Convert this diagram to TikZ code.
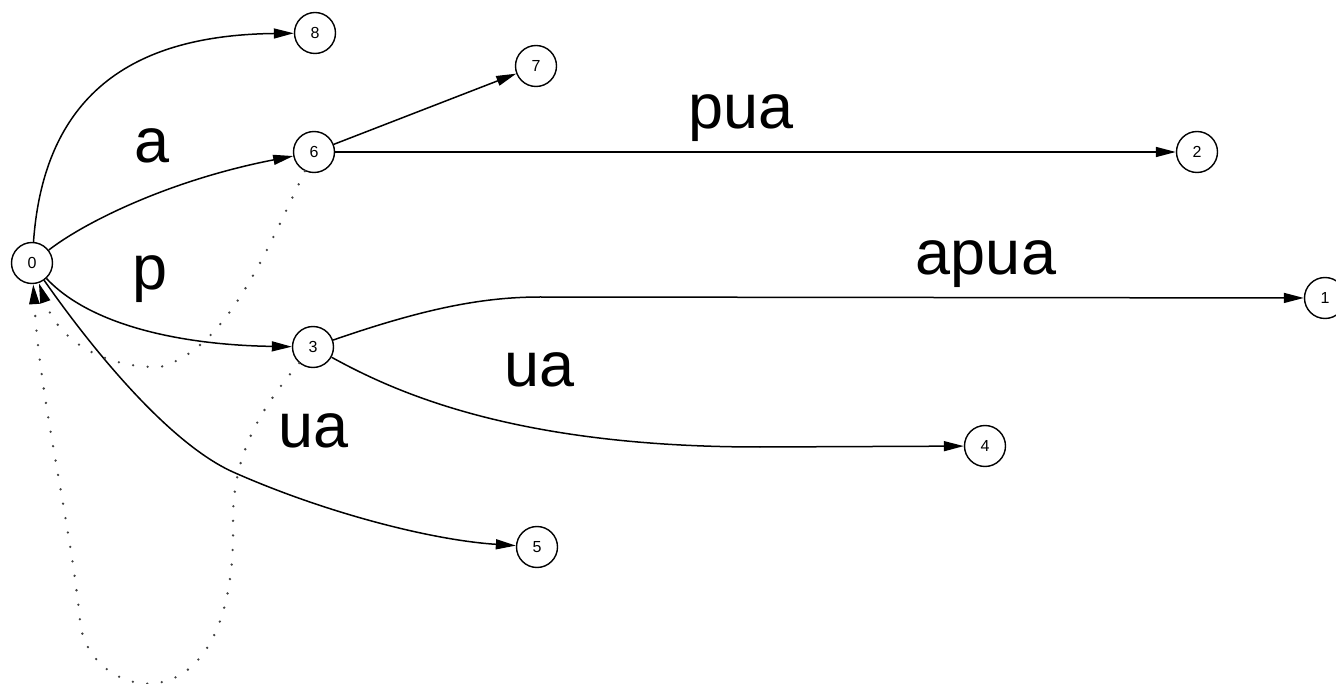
\documentclass[tikz,border=0pt]{standalone}
\usepackage{fontspec}
\setmainfont{Liberation Sans}
\usetikzlibrary{arrows.meta}

\tikzset{
  state/.style={draw, circle, line width=1.4pt, minimum size=41pt, inner sep=0pt,
    font=\fontsize{16}{18}\selectfont},
  lbl/.style={anchor=base, inner sep=0pt, font=\fontsize{63}{70}\selectfont},
  trans/.style={line width=1.5pt, -{Triangle[length=20pt,width=10pt]}},
  fail/.style={line width=2.6pt, black!75, line cap=round, dash pattern=on 0pt off 14.6pt,
    -{Triangle[length=20pt,width=10pt,black]}}
}

\begin{document}
\begin{tikzpicture}[x=1pt, y=-1pt]
  \useasboundingbox (0,0) rectangle (1336,684);
  \clip (0,0) rectangle (1336,684);

  % trie states
  \node[state] (n0) at (32,263) {0};
  \node[state] (n8) at (315,33) {8};
  \node[state] (n7) at (536,66) {7};
  \node[state] (n6) at (314,152) {6};
  \node[state] (n2) at (1197,152) {2};
  \node[state] (n3) at (313,347) {3};
  \node[state] (n1) at (1325,298) {1};
  \node[state] (n4) at (985,446) {4};
  \node[state] (n5) at (537,547) {5};

  % goto edges
  \draw[trans] (n0) .. controls (45,80) and (150,35) .. (n8);
  \draw[trans] (n0) .. controls (85,222) and (170,180) .. (n6);
  \draw[trans] (n0) .. controls (90,325) and (180,345) .. (n3);
  \draw[trans] (n0) .. controls (100,360) and (173,445) .. (233,472)
                    .. controls (323,512) and (430,540) .. (n5);
  \draw[trans] (n6) -- (n7);
  \draw[trans] (n6) -- (n2);
  \draw[trans] (n3) .. controls (420,310) and (480,297) .. (540,297) -- (n1);
  \draw[trans] (n3) .. controls (400,395) and (520,447) .. (760,447) -- (n4);

  % failure links
  \draw[fail] (n6) .. controls (265,255) and (225,350) .. (160,367)
                   .. controls (110,368) and (60,345) .. (n0);
  \draw[fail] (n3) .. controls (255,415) and (233,460) .. (233,520)
                   .. controls (238,740) and (85,700) .. (80,620)
                   .. controls (70,520) and (40,400) .. (n0);

  % edge labels
  \node[lbl] (la) at (152,163) {a};
  \node[lbl] (lp) at (150,290) {p};
  \node[lbl] (lpua) at (741,129) {pua};
  \node[lbl] (lapua) at (986,275) {apua};
  \node[lbl] (lua) at (540,387) {ua};
  \node[lbl] (luab) at (314,447) {ua};
\end{tikzpicture}
\end{document}
